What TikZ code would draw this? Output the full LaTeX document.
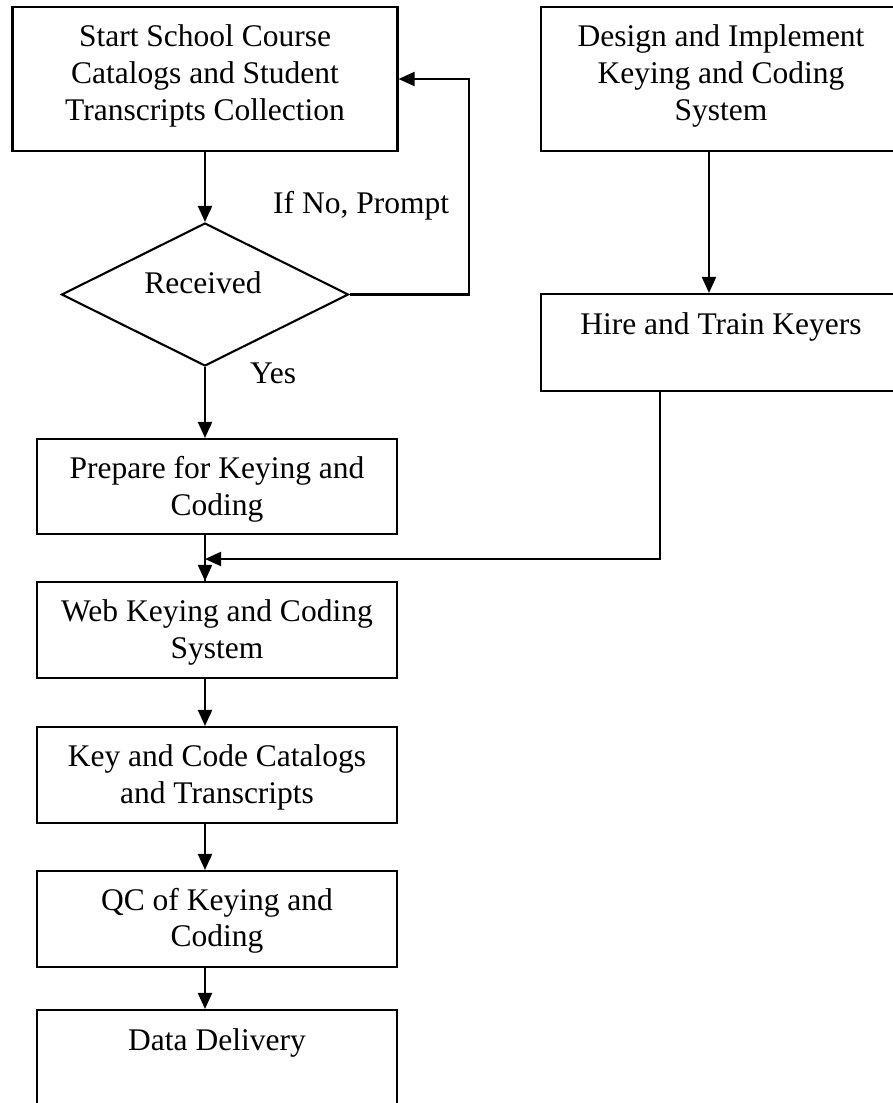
\documentclass[tikz,border=0pt]{standalone}
\usepackage{fontspec}
\setmainfont{Liberation Serif}
\usetikzlibrary{arrows.meta,shapes.geometric}
\begin{document}
\begin{tikzpicture}[x=1pt,y=-1pt,
  box/.style={draw,line width=2.1pt,rectangle,inner sep=0pt},
  decision/.style={draw,line width=2.1pt,diamond,aspect=2,inner sep=0pt,
    minimum width=287pt,minimum height=143pt},
  lbl/.style={font=\fontsize{31.5}{36.7}\selectfont,align=center,inner sep=0pt,anchor=base},
  conn/.style={line width=2.1pt},
  arr/.style={conn,-{Triangle[width=14pt,length=16pt]}}]
\useasboundingbox (0,0) rectangle (893,1103);
\clip (0,0) rectangle (893,1103);

% boxes
\node[box,minimum width=385pt,minimum height=144pt] (start) at (205,79) {};
\node[box,minimum width=360pt,minimum height=144pt] (design) at (721,79) {};
\node[decision] (recv) at (205,294.5) {};
\node[box,minimum width=360pt,minimum height=97pt] (hire) at (721,342.5) {};
\node[box,minimum width=360pt,minimum height=95pt] (prep) at (217,486.5) {};
\node[box,minimum width=360pt,minimum height=96pt] (web) at (217,630) {};
\node[box,minimum width=360pt,minimum height=96pt] (key) at (217,775) {};
\node[box,minimum width=360pt,minimum height=96pt] (qc) at (217,919) {};
\node[box,minimum width=360pt,minimum height=130pt] (deliv) at (217,1075) {};

% texts (placed at the baseline of their last line)
\node[lbl] (tstart) at (205,120.1) {Start School Course\\Catalogs and Student\\Transcripts Collection};
\node[lbl] (tdesign) at (721,120.1) {Design and Implement\\Keying and Coding\\System};
\node[lbl] (trecv) at (203,293) {Received};
\node[lbl] (thire) at (721,334.3) {Hire and Train Keyers};
\node[lbl] (tprep) at (217,515) {Prepare for Keying and\\Coding};
\node[lbl] (tweb) at (217,658.4) {Web Keying and Coding\\System};
\node[lbl] (tkey) at (217,803.4) {Key and Code Catalogs\\and Transcripts};
\node[lbl] (tqc) at (217,946.7) {QC of Keying and\\Coding};
\node[lbl] (tdeliv) at (217,1050.7) {Data Delivery};
\node[lbl,anchor=base west] (tno) at (273,213) {If No, Prompt};
\node[lbl,anchor=base west] (tyes) at (250,383) {Yes};

% routing points
\coordinate (spine) at (205,0);
\coordinate (rspine) at (709,0);
\coordinate (loopx) at (469,0);
\coordinate (mergex) at (660,0);
\coordinate (mergey) at (0,559);

% connectors
\draw[arr] (start.south) -- (recv.north);
\draw[arr] (recv.east) -- (recv.east -| loopx) -- (start.east -| loopx) -- (start.east);
\draw[arr] (recv.south) -- (prep.north -| spine);
\draw[conn] (prep.south -| spine) -- (web.north -| spine);
\draw[arr] (mergey -| spine) -- (web.north -| spine);
\draw[arr] (hire.south -| mergex) -- (mergey -| mergex) -- (mergey -| spine);
\draw[arr] (design.south -| rspine) -- (hire.north -| rspine);
\draw[arr] (web.south -| spine) -- (key.north -| spine);
\draw[arr] (key.south -| spine) -- (qc.north -| spine);
\draw[arr] (qc.south -| spine) -- (deliv.north -| spine);
\end{tikzpicture}
\end{document}
